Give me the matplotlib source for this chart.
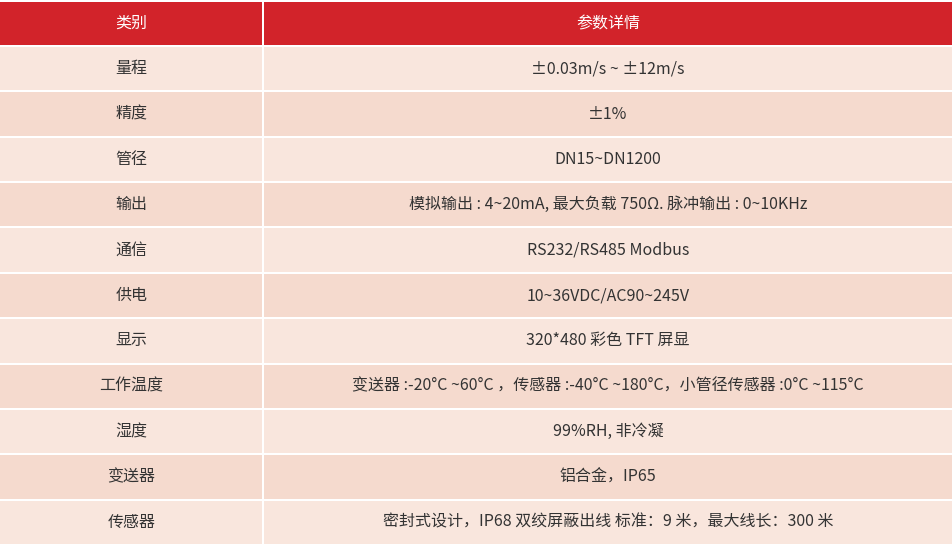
import matplotlib
matplotlib.use("Agg")
import matplotlib.pyplot as plt
from matplotlib.patches import Rectangle

plt.rcParams['font.family'] = ['Noto Sans CJK SC', 'DejaVu Sans']

header = ["类别", "参数详情"]
categories = ["量程", "精度", "管径", "输出", "通信", "供电", "显示", "工作温度", "湿度", "变送器", "传感器"]
details = [
    "±0.03m/s ~ ±12m/s",
    "±1%",
    "DN15~DN1200",
    "模拟输出 : 4~20mA, 最大负载 750Ω. 脉冲输出 : 0~10KHz",
    "RS232/RS485 Modbus",
    "10~36VDC/AC90~245V",
    "320*480 彩色 TFT 屏显",
    "变送器 :-20°C ~60°C ，传感器 :-40°C ~180°C，小管径传感器 :0°C ~115°C",
    "99%RH, 非冷凝",
    "铝合金，IP65",
    "密封式设计，IP68 双绞屏蔽出线 标准：9 米，最大线长：300 米",
]

W, H = 953, 546
fig = plt.figure(figsize=(W/100, H/100), dpi=100)
ax = fig.add_axes([0, 0, 1, 1])
ax.set_xlim(0, W); ax.set_ylim(H, 0); ax.axis('off')

split = 263
gap = 2
top = 2
hh = 43
n = len(categories)
rh = (H - (top + hh + gap)) / n
red = "#D2232A"; light = "#F9E6DD"; dark = "#F5DACE"

def row(y0, h, color, texts, tcolor):
    ax.add_patch(Rectangle((0, y0), split - gap/2, h, color=color, lw=0))
    ax.add_patch(Rectangle((split + gap/2, y0), W - split - gap/2, h, color=color, lw=0))
    ax.text(split/2, y0 + h/2, texts[0], ha='center', va='center', fontsize=11.5, color=tcolor)
    ax.text((split + W)/2, y0 + h/2, texts[1], ha='center', va='center', fontsize=11.5, color=tcolor)

row(top, hh, red, header, "white")
y = top + hh + gap
for i, (c, d) in enumerate(zip(categories, details)):
    row(y, rh - gap, light if i % 2 == 0 else dark, (c, d), "#333333")
    y += rh

fig.savefig("out.png", dpi=100)
